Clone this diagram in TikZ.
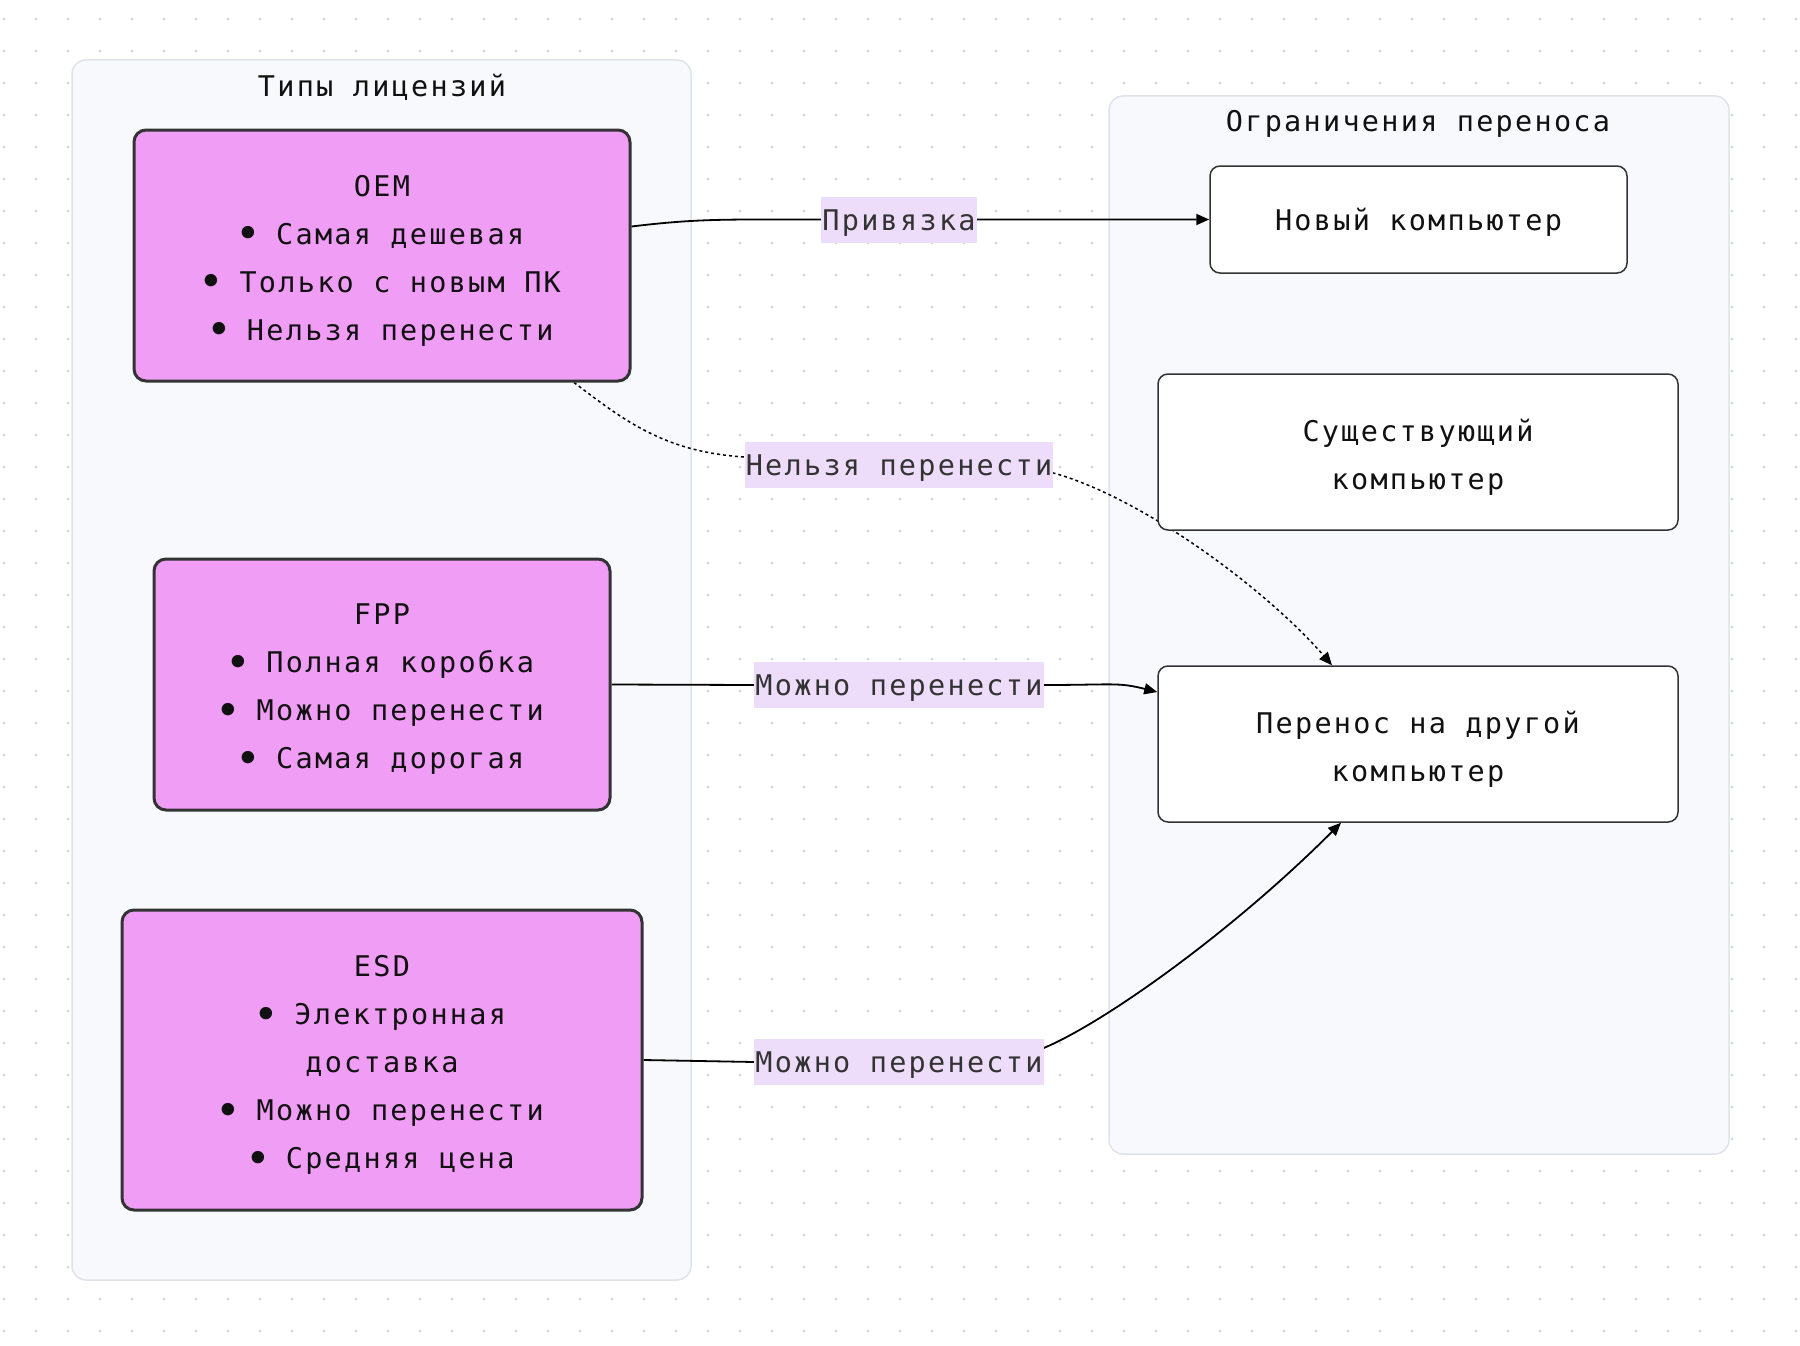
\documentclass[tikz,border=0pt]{standalone}
\usepackage{fontspec}
\usepackage{graphicx}
\newfontfamily\mono{DejaVu Sans Mono}[LetterSpace=8]
\usetikzlibrary{arrows.meta,calc}
\definecolor{pinkfill}{HTML}{F09DF6}
\definecolor{boxline}{HTML}{333333}
\definecolor{labelfill}{HTML}{EEDDFA}
\definecolor{labeltext}{HTML}{333333}
\definecolor{textc}{HTML}{111111}
\definecolor{clfill}{HTML}{F8F9FD}
\definecolor{clline}{HTML}{E1E3EA}
\definecolor{dotc}{HTML}{D2D4DC}
\newcommand\bul{\makebox[17pt]{\raisebox{-4.5pt}{\scalebox{1.5}{•}}}}
\pgfdeclarelayer{grid}
\pgfdeclarelayer{edges}
\pgfsetlayers{grid,edges,main}
\begin{document}
\begin{tikzpicture}[x=1pt,y=-1pt,
  every node/.style={font=\mono\fontsize{28.5}{48}\selectfont, text=textc},
  pinkbox/.style={draw=boxline, line width=3pt, fill=pinkfill, rounded corners=12pt, inner sep=0pt},
  whitebox/.style={draw=boxline, line width=1.5pt, fill=white, rounded corners=10pt, inner sep=0pt},
  boxtext/.style={align=center, inner sep=0pt},
  elabel/.style={fill=labelfill, text=labeltext, inner xsep=1pt, inner ysep=0pt, minimum height=46pt, text height=24pt, text depth=4pt},
  cluster/.style={draw=clline, line width=1.5pt, fill=clfill, rounded corners=14pt},
  conn/.style={draw=black, line width=1.8pt, -{Triangle[length=13pt,width=11pt]}},
  dotconn/.style={draw=black, line width=1.5pt, dash pattern=on 3pt off 3pt, -{Triangle[length=13pt,width=11pt]}}
]
\useasboundingbox (0,0) rectangle (1800,1346);
\begin{pgfonlayer}{grid}
\fill[white] (0,0) rectangle (1800,1346);
\foreach \i in {0,...,56}{
  \foreach \j in {0,...,41}{
    \fill[dotc] (4+32*\i,19+32*\j) circle[radius=1.5pt];
  }
}
\path[cluster] (72,60) rectangle (691,1280);
\path[cluster] (1109,96) rectangle (1729,1154);
\end{pgfonlayer}

\node (titleL) at (382,87) {Типы лицензий};
\node (titleR) at (1418,124) {Ограничения переноса};

\node[pinkbox, minimum width=496pt, minimum height=251pt] (oem) at (382,255.5) {};
\node[boxtext] (oemt) at ($(oem.center)+(0,5)$)
  {OEM\\\bul{} Самая дешевая\\\bul{} Только с новым ПК\\\bul{} Нельзя перенести};
\node[pinkbox, minimum width=456pt, minimum height=251pt] (fpp) at (382,684.5) {};
\node[boxtext] (fppt) at ($(fpp.center)+(0,5)$)
  {FPP\\\bul{} Полная коробка\\\bul{} Можно перенести\\\bul{} Самая дорогая};
\node[pinkbox, minimum width=520pt, minimum height=300pt] (esd) at (382,1060) {};
\node[boxtext] (esdt) at ($(esd.center)+(0,5)$)
  {ESD\\\bul{} Электронная\\доставка\\\bul{} Можно перенести\\\bul{} Средняя цена};

\node[whitebox, minimum width=417pt, minimum height=107pt] (new) at (1418.5,219.5) {};
\node[boxtext] (newt) at ($(new.center)+(0,3)$) {Новый компьютер};
\node[whitebox, minimum width=520pt, minimum height=156pt] (exist) at (1418,452) {};
\node[boxtext] (existt) at ($(exist.center)+(0,5)$) {Существующий\\компьютер};
\node[whitebox, minimum width=520pt, minimum height=156pt] (move) at (1418,744) {};
\node[boxtext] (movet) at ($(move.center)+(0,5)$) {Перенос на другой\\компьютер};

\node[elabel] (l1) at (899,220) {Привязка};
\node[elabel] (l2) at (899,465) {Нельзя перенести};
\node[elabel] (l3) at (899,685) {Можно перенести};
\node[elabel] (l4) at (899,1062) {Можно перенести};

\begin{pgfonlayer}{edges}
\draw[conn] ($(oem.east)+(0,-29)$) .. controls +(50,-6) and +(-50,0) .. ($(new.west)+(-450,0)$) -- (new.west);
\draw[dotconn] ($(oem.south)+(192,0)$) .. controls +(50,38) and +(-80,-5) .. ($(l2.west)+(0,-8)$)
  -- ($(l2.east)+(0,8)$) .. controls +(90,25) and +(-65,-75) .. ($(move.north)+(-86,0)$);
\draw[conn] (fpp.east) -- (l3.west) -- (l3.east) .. controls +(70,0) and +(-40,-10) .. ($(move.west)+(0,-52)$);
\draw[conn] (esd.east) -- (l4.west) -- ($(l4.east)+(0,-14)$) .. controls +(60,-25) and +(-110,110) .. ($(move.south)+(-77,0)$);
\end{pgfonlayer}
\end{tikzpicture}
\end{document}
